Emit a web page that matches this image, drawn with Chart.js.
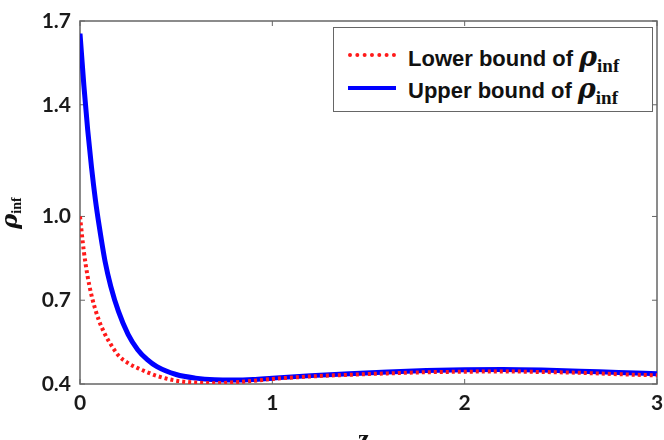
<!DOCTYPE html>
<html>
<head>
<meta charset="utf-8">
<script src="https://cdn.jsdelivr.net/npm/chart.js@4.4.1/dist/chart.umd.min.js"></script>
<style>
  html, body { margin: 0; padding: 0; background: #fff; overflow: hidden; }
  #wrap { position: relative; width: 664px; height: 440px; overflow: hidden; }
  #chart { position: absolute; left: 0; top: 0; }
  .legend {
    position: absolute; left: 333px; top: 27px; width: 320px; height: 85px;
    border: 1.5px solid #666; background: #fff; box-sizing: border-box;
    font-family: "Liberation Sans", Arial, sans-serif; font-weight: bold; font-size: 22px; color: #111;
  }
  .row { position: absolute; left: 0; height: 30px; white-space: nowrap; }
  .sample { position: absolute; left: 14px; width: 48px; }
  .lbl { position: absolute; left: 74px; top: 0; }
  .rho { font-family: "DejaVu Serif", serif; font-style: italic; font-weight: bold; font-size: 27px; }
  .sub { font-family: "Liberation Serif", serif; font-weight: bold; font-size: 19px; position: relative; top: 6px; }
  .ytitle {
    position: absolute; left: -8px; top: 196px; width: 36px; height: 30px;
    transform: rotate(-90deg); transform-origin: center; white-space: nowrap; color: #111;
  }
  .xtitle {
    position: absolute; left: 358px; top: 424px; white-space: nowrap; color: #111;
    font-family: "Liberation Serif", serif; font-weight: bold; font-size: 26px;
  }
</style>
</head>
<body>
<div id="wrap">
  <canvas id="chart" width="664" height="440"></canvas>
  <div class="legend">
    <div class="row" style="top:13px">
      <div class="sample" style="top:12px;border-top:4px dotted #ff1a1a"></div>
      <div class="lbl">Lower bound of <span class="rho">ρ</span><span class="sub">inf</span></div>
    </div>
    <div class="row" style="top:45px">
      <div class="sample" style="top:13px;border-top:4px solid #0000ff"></div>
      <div class="lbl">Upper bound of <span class="rho">ρ</span><span class="sub">inf</span></div>
    </div>
  </div>
  <div class="ytitle"><span class="rho" style="font-size:23px">ρ</span><span class="sub" style="font-size:14px;top:4px">inf</span></div>
  <div class="xtitle">z<span style="font-size:15px;position:relative;top:6px">t</span></div>
</div>
<script>
const xValues = [0, 0.02, 0.04, 0.06, 0.08, 0.1, 0.13, 0.16, 0.2, 0.25, 0.3, 0.35, 0.4, 0.5, 0.6, 0.7,
  0.8, 0.9, 1.0, 1.2, 1.4, 1.6, 1.8, 2.0, 2.2, 2.4, 2.6, 2.8, 3.0];
const upperBound = [1.655, 1.47, 1.31, 1.175, 1.06, 0.965, 0.84, 0.75, 0.66, 0.578, 0.523, 0.487, 0.462, 0.434, 0.421, 0.415,
  0.414, 0.416, 0.421, 0.43, 0.437, 0.443, 0.448, 0.451, 0.452, 0.45, 0.446, 0.441, 0.437];
const lowerBound = [1.0, 0.875, 0.784, 0.717, 0.666, 0.625, 0.578, 0.542, 0.502, 0.475, 0.457, 0.442, 0.429, 0.412, 0.405, 0.403,
  0.406, 0.411, 0.418, 0.427, 0.433, 0.438, 0.442, 0.444, 0.445, 0.443, 0.44, 0.435, 0.431];
const yTickValues = [0.4, 0.7, 1.0, 1.4, 1.7];
const xTickValues = [0, 1, 2, 3];

function toPoints(ys) {
  return xValues.map((x, i) => ({ x: x, y: ys[i] }));
}

// frame box + small inward tick marks on all four sides
const framePlugin = {
  id: "frame",
  beforeDatasetsDraw(chart) {
    const { ctx, chartArea: a, scales } = chart;
    ctx.save();
    ctx.strokeStyle = "#666";
    ctx.lineWidth = 1.5;
    ctx.strokeRect(a.left, a.top, a.right - a.left, a.bottom - a.top);
    ctx.lineWidth = 1;
    ctx.beginPath();
    yTickValues.forEach((v) => {
      const y = scales.y.getPixelForValue(v);
      ctx.moveTo(a.left, y); ctx.lineTo(a.left + 5, y);
      ctx.moveTo(a.right, y); ctx.lineTo(a.right - 5, y);
    });
    xTickValues.forEach((v) => {
      const x = scales.x.getPixelForValue(v);
      ctx.moveTo(x, a.bottom); ctx.lineTo(x, a.bottom - 5);
      ctx.moveTo(x, a.top); ctx.lineTo(x, a.top + 5);
    });
    ctx.stroke();
    ctx.restore();
  },
};

const tickFont = { family: "Lato, 'Open Sans', sans-serif", size: 21, weight: "bold" };

new Chart(document.getElementById("chart"), {
  type: "line",
  data: {
    datasets: [
      {
        label: "Lower bound",
        data: toPoints(lowerBound),
        borderColor: "#ff1a1a",
        borderWidth: 4,
        borderDash: [3, 3],
        pointRadius: 0,
        cubicInterpolationMode: "monotone",
        fill: false,
      },
      {
        label: "Upper bound",
        data: toPoints(upperBound),
        borderColor: "#0000ff",
        borderWidth: 5,
        pointRadius: 0,
        cubicInterpolationMode: "monotone",
        fill: false,
      },
    ],
  },
  options: {
    responsive: false,
    animation: false,
    layout: { padding: { top: 21, right: 7, left: 0, bottom: 0 } },
    plugins: { legend: { display: false }, tooltip: { enabled: false } },
    scales: {
      x: {
        type: "linear",
        min: 0,
        max: 3,
        border: { display: false },
        grid: { display: false, drawTicks: false },
        afterBuildTicks: (s) => { s.ticks = xTickValues.map((v) => ({ value: v })); },
        afterFit: (s) => { s.height = 56; s.paddingLeft = 0; s.paddingRight = 0; },
        ticks: { font: tickFont, color: "#1a1a1a", padding: 7, maxRotation: 0 },
      },
      y: {
        min: 0.4,
        max: 1.7,
        border: { display: false },
        grid: { display: false, drawTicks: false },
        afterBuildTicks: (s) => { s.ticks = yTickValues.map((v) => ({ value: v })); },
        afterFit: (s) => { s.width = 80; s.paddingTop = 0; s.paddingBottom = 0; },
        ticks: { font: tickFont, color: "#1a1a1a", padding: 9, callback: (v) => v.toFixed(1) },
      },
    },
  },
  plugins: [framePlugin],
});
</script>
</body>
</html>
